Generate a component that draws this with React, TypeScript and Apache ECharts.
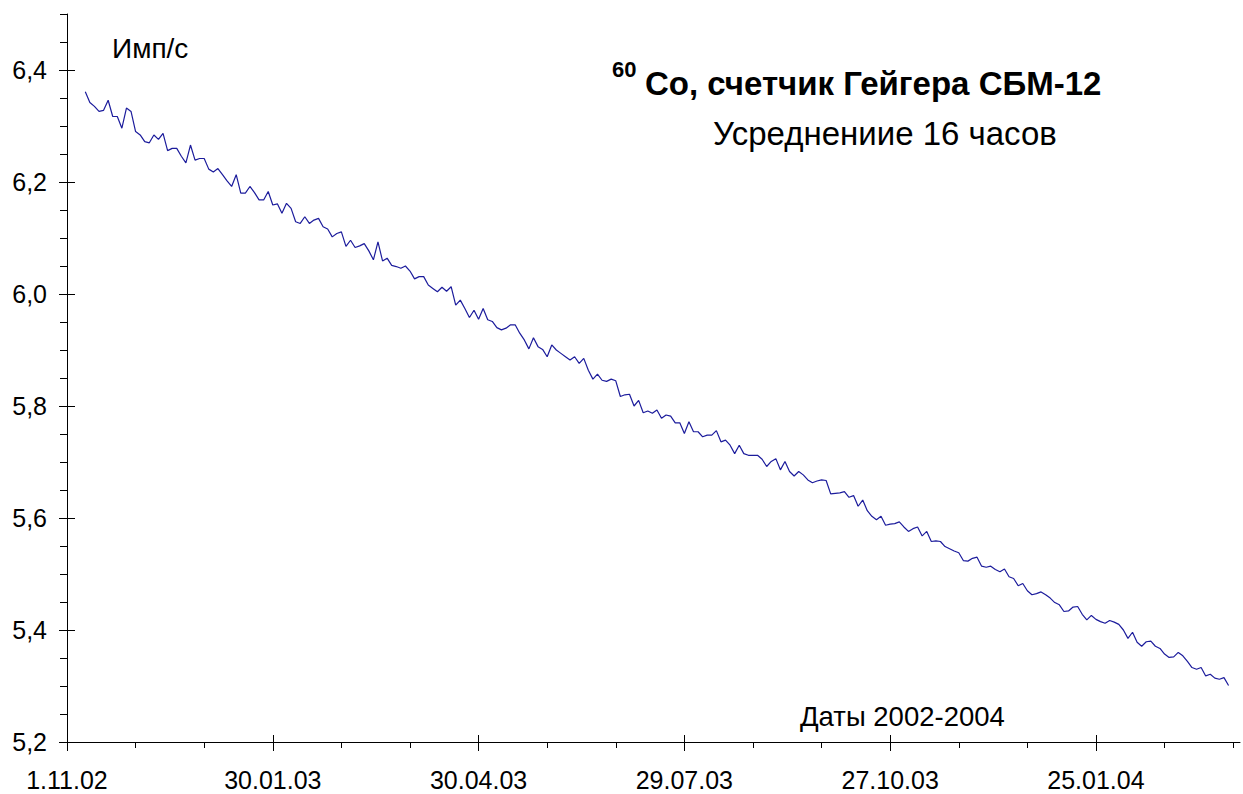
import React, { useEffect, useRef } from "react";
import * as echarts from "echarts";

// Sampling of the measured curve: first sample day (from 1.11.02) and step in days
const START_DAY = 8;
const STEP_DAYS = 2;

// Count rate, pulses per second
const counts: number[] = [
  6.361, 6.342, 6.335, 6.326, 6.328, 6.346, 6.317, 6.317, 6.296, 6.332,
  6.326, 6.290, 6.284, 6.272, 6.270, 6.284, 6.276, 6.287, 6.256, 6.260,
  6.260, 6.246, 6.234, 6.266, 6.239, 6.242, 6.242, 6.223, 6.218, 6.224,
  6.213, 6.202, 6.192, 6.213, 6.180, 6.180, 6.192, 6.181, 6.168, 6.168,
  6.183, 6.159, 6.161, 6.144, 6.162, 6.153, 6.129, 6.126, 6.138, 6.126,
  6.132, 6.135, 6.120, 6.116, 6.102, 6.108, 6.111, 6.085, 6.096, 6.083,
  6.086, 6.090, 6.077, 6.061, 6.093, 6.059, 6.064, 6.051, 6.049, 6.046,
  6.050, 6.041, 6.027, 6.031, 6.031, 6.016, 6.010, 6.004, 6.012, 6.005,
  6.013, 5.980, 5.989, 5.974, 5.958, 5.971, 5.955, 5.974, 5.954, 5.951,
  5.940, 5.936, 5.939, 5.945, 5.945, 5.930, 5.918, 5.902, 5.922, 5.906,
  5.901, 5.888, 5.909, 5.900, 5.894, 5.888, 5.882, 5.888, 5.876, 5.885,
  5.864, 5.848, 5.857, 5.846, 5.844, 5.848, 5.845, 5.817, 5.820, 5.821,
  5.800, 5.810, 5.788, 5.791, 5.787, 5.793, 5.778, 5.784, 5.782, 5.770,
  5.770, 5.751, 5.772, 5.754, 5.754, 5.745, 5.748, 5.748, 5.756, 5.736,
  5.739, 5.730, 5.715, 5.730, 5.715, 5.712, 5.712, 5.712, 5.705, 5.692,
  5.701, 5.706, 5.686, 5.701, 5.683, 5.675, 5.683, 5.677, 5.668, 5.663,
  5.666, 5.668, 5.667, 5.643, 5.644, 5.645, 5.647, 5.637, 5.640, 5.621,
  5.632, 5.613, 5.603, 5.597, 5.603, 5.587, 5.589, 5.590, 5.593, 5.584,
  5.576, 5.581, 5.584, 5.568, 5.576, 5.558, 5.559, 5.558, 5.549, 5.545,
  5.541, 5.538, 5.524, 5.523, 5.528, 5.530, 5.514, 5.512, 5.514, 5.508,
  5.504, 5.509, 5.495, 5.492, 5.479, 5.483, 5.470, 5.463, 5.465, 5.468,
  5.463, 5.457, 5.449, 5.445, 5.433, 5.434, 5.441, 5.442, 5.428, 5.418,
  5.426, 5.419, 5.415, 5.412, 5.417, 5.414, 5.410, 5.400, 5.385, 5.396,
  5.378, 5.371, 5.379, 5.380, 5.371, 5.367, 5.357, 5.351, 5.352, 5.360,
  5.354, 5.344, 5.333, 5.330, 5.333, 5.318, 5.321, 5.314, 5.312, 5.315,
  5.301,
];

// Axis ticks (days since 1.11.02) and y ticks
const X_MAJOR = [0, 90, 180, 270, 360, 450];
const X_MINOR = [30, 60, 120, 150, 210, 240, 300, 330, 390, 420, 480, 510];
const Y_MAJOR = [5.2, 5.4, 5.6, 5.8, 6.0, 6.2, 6.4];
const Y_MINOR = [
  5.25, 5.3, 5.35, 5.45, 5.5, 5.55, 5.65, 5.7, 5.75, 5.85, 5.9, 5.95,
  6.05, 6.1, 6.15, 6.25, 6.3, 6.35, 6.45, 6.5,
];

const X_MIN = 0;
const X_MAX = 513;
const Y_MIN = 5.2;
const Y_MAX = 6.5;

const TITLE_SUP = "60";
const TITLE = "Co, счетчик Гейгера СБМ-12";
const SUBTITLE = "Усреднениие 16 часов";
const Y_NAME = "Имп/с";
const X_NAME = "Даты 2002-2004";

const FONT = "'Liberation Sans', Arial, sans-serif";
const BASE = Date.UTC(2002, 10, 1);

function fmtDate(d: number): string {
  const dt = new Date(BASE + Math.round(d) * 86400000);
  const day = dt.getUTCDate();
  const m = String(dt.getUTCMonth() + 1).padStart(2, "0");
  const y = String(dt.getUTCFullYear() % 100).padStart(2, "0");
  return `${day}.${m}.${y}`;
}

export default function App() {
  const ref = useRef<HTMLDivElement>(null);

  useEffect(() => {
    if (!ref.current) return;
    const chart = echarts.init(ref.current, undefined, { renderer: "svg" });

    const data = counts.map((v, i) => [START_DAY + i * STEP_DAYS, v]);
    const axisColor = "#000";

    const xBase = {
      type: "value" as const,
      position: "bottom" as const,
      min: X_MIN,
      max: X_MAX,
      splitLine: { show: false },
    };
    const yBase = {
      type: "value" as const,
      position: "left" as const,
      min: Y_MIN,
      max: Y_MAX,
      splitLine: { show: false },
    };

    chart.setOption({
      animation: false,
      backgroundColor: "#fff",
      grid: { left: 67, top: 14, right: 3, bottom: 52, containLabel: false },
      xAxis: [
        {
          ...xBase,
          axisLine: { show: true, lineStyle: { color: axisColor, width: 1 } },
          axisTick: { show: true, length: 9, customValues: X_MAJOR, lineStyle: { color: axisColor } },
          axisLabel: {
            show: true,
            customValues: X_MAJOR,
            formatter: (v: number) => fmtDate(v),
            fontFamily: FONT,
            fontSize: 25,
            color: "#000",
            margin: 25,
          },
        },
        {
          ...xBase,
          axisLine: { show: false },
          axisTick: { show: true, inside: true, length: 7, customValues: X_MAJOR, lineStyle: { color: axisColor } },
          axisLabel: { show: false },
        },
        {
          ...xBase,
          axisLine: { show: false },
          axisTick: { show: true, length: 6, customValues: X_MINOR, lineStyle: { color: axisColor } },
          axisLabel: { show: false },
        },
      ],
      yAxis: [
        {
          ...yBase,
          axisLine: { show: true, lineStyle: { color: axisColor, width: 1 } },
          axisTick: { show: true, length: 8, customValues: Y_MAJOR, lineStyle: { color: axisColor } },
          axisLabel: {
            show: true,
            customValues: Y_MAJOR,
            formatter: (v: number) => v.toFixed(1).replace(".", ","),
            fontFamily: FONT,
            fontSize: 25,
            color: "#000",
            margin: 20,
          },
        },
        {
          ...yBase,
          axisLine: { show: false },
          axisTick: { show: true, inside: true, length: 8, customValues: Y_MAJOR, lineStyle: { color: axisColor } },
          axisLabel: { show: false },
        },
        {
          ...yBase,
          axisLine: { show: false },
          axisTick: { show: true, length: 7, customValues: Y_MINOR, lineStyle: { color: axisColor } },
          axisLabel: { show: false },
        },
      ],
      graphic: [
        {
          type: "text",
          left: 112,
          top: 34,
          style: { text: Y_NAME, font: `28px ${FONT}`, fill: "#000" },
        },
        {
          type: "text",
          left: 612,
          top: 58,
          style: { text: TITLE_SUP, font: `bold 22px ${FONT}`, fill: "#000" },
        },
        {
          type: "text",
          left: 645,
          top: 67,
          style: { text: TITLE, font: `bold 33px ${FONT}`, fill: "#000" },
        },
        {
          type: "text",
          left: 713,
          top: 117,
          style: { text: SUBTITLE, font: `33px ${FONT}`, fill: "#000" },
        },
        {
          type: "text",
          left: 800,
          top: 702,
          style: { text: X_NAME, font: `27.5px ${FONT}`, fill: "#000" },
        },
      ],
      series: [
        {
          type: "line",
          xAxisIndex: 0,
          yAxisIndex: 0,
          data,
          showSymbol: false,
          symbol: "none",
          lineStyle: { color: "#1c1c9c", width: 1.2 },
          silent: true,
        },
      ],
    });

    return () => chart.dispose();
  }, []);

  return (
    <div
      ref={ref}
      style={{ position: "fixed", left: 0, top: 0, width: 1243, height: 794, background: "#fff" }}
    />
  );
}
